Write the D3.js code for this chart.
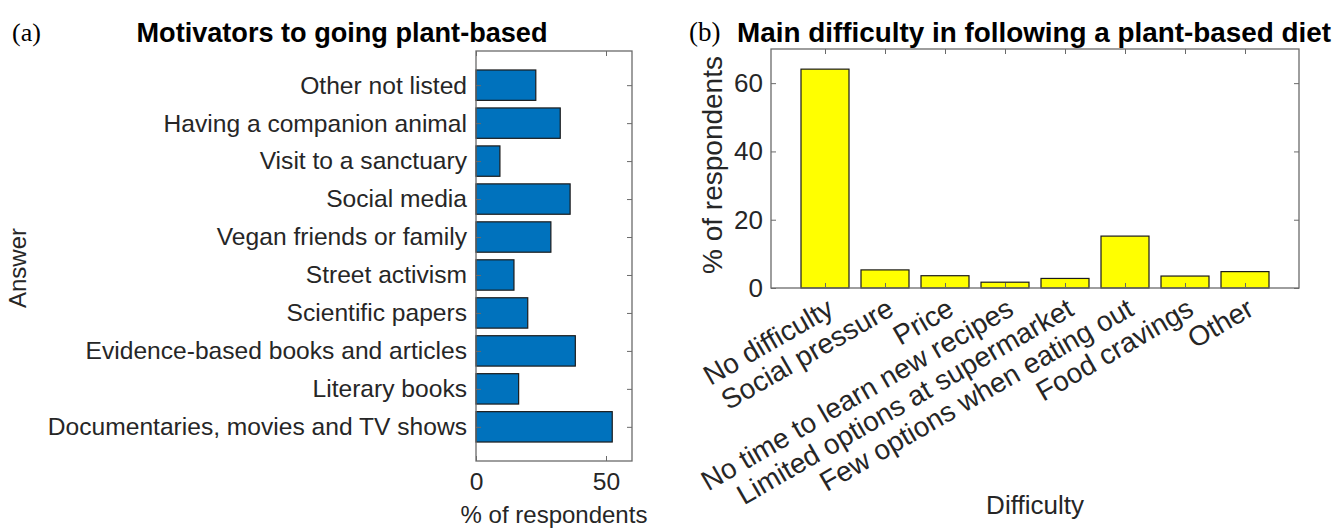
<!DOCTYPE html>
<html>
<head>
<meta charset="utf-8">
<script src="https://cdn.jsdelivr.net/npm/d3@7"></script>
<style>
  body { margin: 0; background: #fff; }
  text { font-family: "Liberation Sans", Arial, sans-serif; fill: #262626; }
</style>
</head>
<body>
<svg id="fig" width="1335" height="528"></svg>
<script>
// Panel (a): motivators, listed from the bottom bar upwards
const motivators = [
  "Documentaries, movies and TV shows",
  "Literary books",
  "Evidence-based books and articles",
  "Scientific papers",
  "Street activism",
  "Vegan friends or family",
  "Social media",
  "Visit to a sanctuary",
  "Having a companion animal",
  "Other not listed"
];
const motivatorPct = [52.4, 16.4, 38.2, 19.9, 14.6, 28.8, 36.2, 9.2, 32.4, 23.0];
const motivatorTicks = [0, 50];

// Panel (b): main difficulty, left to right
const difficulties = [
  "No difficulty",
  "Social pressure",
  "Price",
  "No time to learn new recipes",
  "Limited options at supermarket",
  "Few options when eating out",
  "Food cravings",
  "Other"
];
const difficultyPct = [64.1, 5.3, 3.6, 1.7, 2.8, 15.2, 3.5, 4.8];
const difficultyTicks = [0, 20, 40, 60];

const svg = d3.select("#fig");
const AXIS_COLOR = "#6a6a6a";
const TICK_LEN = 5;

function styleAxis(size) {
  return g => {
    g.select(".domain").remove();
    g.selectAll(".tick line").attr("stroke", AXIS_COLOR).attr("stroke-width", 1);
    g.selectAll(".tick text").attr("font-size", size).attr("fill", "#262626");
  };
}

function frame(g, box) {
  g.append("rect")
    .attr("x", box.left).attr("y", box.top)
    .attr("width", box.right - box.left).attr("height", box.bottom - box.top)
    .attr("fill", "none").attr("stroke", AXIS_COLOR).attr("stroke-width", 1.3);
}

// ---------- Panel (a): horizontal bars ----------
{
  const FONT = 24.6;
  const box = { left: 476, right: 632, top: 51, bottom: 461 };
  const x = d3.scaleLinear().domain([0, 60]).range([box.left, box.right]);
  const y = d3.scaleLinear().domain([0.1, motivators.length + 0.9]).range([box.bottom, box.top]);
  const idx = d3.range(1, motivators.length + 1);
  const barH = 0.8;

  const g = svg.append("g");

  g.selectAll("rect.bar").data(motivatorPct).join("rect")
    .attr("class", "bar")
    .attr("x", x(0))
    .attr("y", (d, i) => y(i + 1 + barH / 2))
    .attr("width", d => x(d) - x(0))
    .attr("height", (d, i) => y(i + 1 - barH / 2) - y(i + 1 + barH / 2))
    .attr("fill", "#0072BD")
    .attr("stroke", "#1a1a1a")
    .attr("stroke-width", 1.2);

  // inward ticks on all four sides
  g.append("g").attr("transform", `translate(0,${box.bottom})`)
    .call(d3.axisBottom(x).tickValues(motivatorTicks).tickFormat(d3.format("d"))
      .tickSizeInner(-TICK_LEN).tickSizeOuter(0).tickPadding(12))
    .call(styleAxis(FONT));
  g.append("g").attr("transform", `translate(0,${box.top})`)
    .call(d3.axisTop(x).tickValues(motivatorTicks).tickFormat("")
      .tickSizeInner(-TICK_LEN).tickSizeOuter(0))
    .call(styleAxis(FONT));
  g.append("g").attr("transform", `translate(${box.left},0)`)
    .call(d3.axisLeft(y).tickValues(idx).tickFormat(i => motivators[i - 1])
      .tickSizeInner(-TICK_LEN).tickSizeOuter(0).tickPadding(9))
    .call(styleAxis(FONT));
  g.append("g").attr("transform", `translate(${box.right},0)`)
    .call(d3.axisRight(y).tickValues(idx).tickFormat("")
      .tickSizeInner(-TICK_LEN).tickSizeOuter(0))
    .call(styleAxis(FONT));

  frame(g, box);

  g.append("text")
    .attr("x", 554).attr("y", 523)
    .attr("text-anchor", "middle").attr("font-size", 24)
    .text("% of respondents");

  g.append("text")
    .attr("transform", "translate(26,268) rotate(-90)")
    .attr("text-anchor", "middle").attr("font-size", 24)
    .text("Answer");

  g.append("text")
    .attr("x", 342).attr("y", 42)
    .attr("text-anchor", "middle").attr("font-size", 28).attr("font-weight", "bold")
    .attr("textLength", 411).attr("lengthAdjust", "spacingAndGlyphs")
    .style("fill", "#000")
    .text("Motivators to going plant-based");

  g.append("text")
    .attr("x", 12).attr("y", 41)
    .attr("font-size", 26)
    .style("font-family", "'Liberation Serif', 'Times New Roman', serif")
    .style("fill", "#000")
    .text("(a)");
}

// ---------- Panel (b): vertical bars ----------
{
  const FONT = 26;
  const box = { left: 771, right: 1299, top: 49, bottom: 288 };
  const x = d3.scaleLinear().domain([0.1, difficulties.length + 0.9]).range([box.left, box.right]);
  const y = d3.scaleLinear().domain([0, 70]).range([box.bottom, box.top]);
  const idx = d3.range(1, difficulties.length + 1);
  const barW = 0.8;

  const g = svg.append("g");

  g.selectAll("rect.bar").data(difficultyPct).join("rect")
    .attr("class", "bar")
    .attr("x", (d, i) => x(i + 1 - barW / 2))
    .attr("y", d => y(d))
    .attr("width", (d, i) => x(i + 1 + barW / 2) - x(i + 1 - barW / 2))
    .attr("height", d => y(0) - y(d))
    .attr("fill", "#FFFF00")
    .attr("stroke", "#1a1a1a")
    .attr("stroke-width", 1.2);

  const bottomAxis = g.append("g").attr("transform", `translate(0,${box.bottom})`)
    .call(d3.axisBottom(x).tickValues(idx).tickFormat(i => difficulties[i - 1])
      .tickSizeInner(-TICK_LEN).tickSizeOuter(0))
    .call(styleAxis(28));
  // category names slanted 30 degrees, ending under their tick
  bottomAxis.selectAll(".tick text")
    .attr("x", 0).attr("y", 0).attr("dy", 0)
    .attr("text-anchor", "end")
    .attr("transform", "translate(10,26) rotate(-30)");

  g.append("g").attr("transform", `translate(0,${box.top})`)
    .call(d3.axisTop(x).tickValues(idx).tickFormat("")
      .tickSizeInner(-TICK_LEN).tickSizeOuter(0))
    .call(styleAxis(FONT));
  g.append("g").attr("transform", `translate(${box.left},0)`)
    .call(d3.axisLeft(y).tickValues(difficultyTicks).tickFormat(d3.format("d"))
      .tickSizeInner(-TICK_LEN).tickSizeOuter(0).tickPadding(8))
    .call(styleAxis(FONT));
  g.append("g").attr("transform", `translate(${box.right},0)`)
    .call(d3.axisRight(y).tickValues(difficultyTicks).tickFormat("")
      .tickSizeInner(-TICK_LEN).tickSizeOuter(0))
    .call(styleAxis(FONT));

  frame(g, box);

  g.append("text")
    .attr("x", 1035).attr("y", 514)
    .attr("text-anchor", "middle").attr("font-size", 26)
    .text("Difficulty");

  g.append("text")
    .attr("transform", "translate(722,165) rotate(-90)")
    .attr("text-anchor", "middle").attr("font-size", 28)
    .text("% of respondents");

  g.append("text")
    .attr("x", 1034).attr("y", 42)
    .attr("text-anchor", "middle").attr("font-size", 28).attr("font-weight", "bold")
    .attr("textLength", 594).attr("lengthAdjust", "spacingAndGlyphs")
    .style("fill", "#000")
    .text("Main difficulty in following a plant-based diet");

  g.append("text")
    .attr("x", 689).attr("y", 41)
    .attr("font-size", 27)
    .style("font-family", "'Liberation Serif', 'Times New Roman', serif")
    .style("fill", "#000")
    .text("(b)");
}
</script>
</body>
</html>
